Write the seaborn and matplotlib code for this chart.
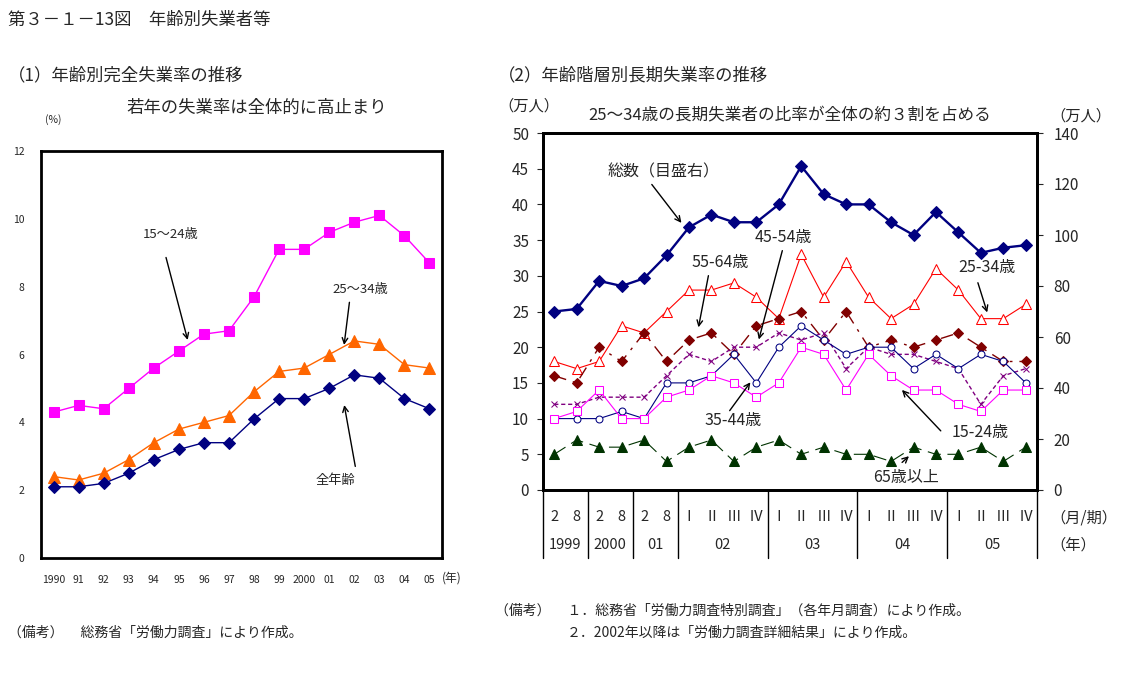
import matplotlib
matplotlib.use("Agg")
import matplotlib.pyplot as plt
import matplotlib.transforms as mtrans
import seaborn as sns

sns.set_style("white")
plt.rcParams['font.family'] = ['Noto Sans CJK JP', 'DejaVu Sans']

# (1) annual unemployment rate by age
years = ["1990", "91", "92", "93", "94", "95", "96", "97", "98", "99",
         "2000", "01", "02", "03", "04", "05"]
rate_15_24 = [4.3, 4.5, 4.4, 5.0, 5.6, 6.1, 6.6, 6.7, 7.7, 9.1, 9.1, 9.6, 9.9, 10.1, 9.5, 8.7]
rate_25_34 = [2.4, 2.3, 2.5, 2.9, 3.4, 3.8, 4.0, 4.2, 4.9, 5.5, 5.6, 6.0, 6.4, 6.3, 5.7, 5.6]
rate_all = [2.1, 2.1, 2.2, 2.5, 2.9, 3.2, 3.4, 3.4, 4.1, 4.7, 4.7, 5.0, 5.4, 5.3, 4.7, 4.4]

# (2) long-term unemployed by age (10k persons)
periods = ["2", "8", "2", "8", "2", "8",
           "Ⅰ", "Ⅱ", "Ⅲ", "Ⅳ", "Ⅰ", "Ⅱ", "Ⅲ", "Ⅳ",
           "Ⅰ", "Ⅱ", "Ⅲ", "Ⅳ", "Ⅰ", "Ⅱ", "Ⅲ", "Ⅳ"]
period_years = ["1999", "2000", "01", "02", "03", "04", "05"]
year_sizes = [2, 2, 2, 4, 4, 4, 4]
total = [70, 71, 82, 80, 83, 92, 103, 108, 105, 105, 112, 127, 116, 112, 112, 105, 100, 109, 101, 93, 95, 96]
lt_25_34 = [18, 17, 18, 23, 22, 25, 28, 28, 29, 27, 24, 33, 27, 32, 27, 24, 26, 31, 28, 24, 24, 26]
lt_55_64 = [16, 15, 20, 18, 22, 18, 21, 22, 19, 23, 24, 25, 21, 25, 20, 21, 20, 21, 22, 20, 18, 18]
lt_45_54 = [12, 12, 13, 13, 13, 16, 19, 18, 20, 20, 22, 21, 22, 17, 20, 19, 19, 18, 17, 12, 16, 17]
lt_35_44 = [10, 10, 10, 11, 10, 15, 15, 16, 19, 15, 20, 23, 21, 19, 20, 20, 17, 19, 17, 19, 18, 15]
lt_15_24 = [10, 11, 14, 10, 10, 13, 14, 16, 15, 13, 15, 20, 19, 14, 19, 16, 14, 14, 12, 11, 14, 14]
lt_65 = [5, 7, 6, 6, 7, 4, 6, 7, 4, 6, 7, 5, 6, 5, 5, 4, 6, 5, 5, 6, 4, 6]

W, H = 1134, 673
fig = plt.figure(figsize=(W / 100, H / 100), dpi=100)


def px_axes(x0, y0, x1, y1):
    return fig.add_axes([x0 / W, 1 - y1 / H, (x1 - x0) / W, (y1 - y0) / H])


def ftext(x, y, s, **kw):
    fig.text(x / W, 1 - y / H, s, va="center", **kw)


# ---------- left chart ----------
ax1 = px_axes(41, 151, 442, 558)
xi = list(range(len(years)))
sns.lineplot(x=xi, y=rate_15_24, ax=ax1, color="#FF00FF", lw=1, marker="s",
             markersize=7, markeredgecolor="#FF00FF")
sns.lineplot(x=xi, y=rate_25_34, ax=ax1, color="#FF6600", lw=1, marker="^",
             markersize=8, markeredgecolor="#FF6600")
sns.lineplot(x=xi, y=rate_all, ax=ax1, color="#000080", lw=1, marker="D",
             markersize=6, markeredgecolor="#000080")
ax1.set_xlim(-0.5, len(years) - 0.5)
ax1.set_ylim(0, 12)
ax1.set_yticks(range(0, 13, 2))
ax1.set_xticks(xi)
ax1.set_xticklabels(years, fontsize=7.5)
ax1.set_xticks([i + 0.5 for i in xi[:-1]], minor=True)
ax1.tick_params(axis="x", which="major", length=0, pad=12)
ax1.tick_params(axis="x", which="minor", length=3, direction="in")
ax1.tick_params(axis="y", labelsize=7.5, length=0, pad=12)
for s in ax1.spines.values():
    s.set_linewidth(2)
    s.set_color("black")

arrow = dict(arrowstyle="->", color="black", lw=1)
ax1.text(4.66, 9.53, "15～24歳", fontsize=9.5, ha="center", va="center")
ax1.annotate("", xy=(5.38, 6.35), xytext=(4.46, 8.94), arrowprops=arrow)
ax1.text(12.26, 7.91, "25～34歳", fontsize=9.5, ha="center", va="center")
ax1.annotate("", xy=(11.58, 6.2), xytext=(11.82, 7.62), arrowprops=arrow)
ax1.text(11.26, 2.29, "全年齢", fontsize=9.5, ha="center", va="center")
ax1.annotate("", xy=(11.58, 4.59), xytext=(12.06, 2.62), arrowprops=arrow)

ftext(8, 20, "第３－１－13図　年齢別失業者等", fontsize=12.5)
ftext(8, 75, "（1）年齢別完全失業率の推移", fontsize=12.5)
ftext(257, 108, "若年の失業率は全体的に高止まり", fontsize=12.5, ha="center")
ftext(45, 120, "(%)", fontsize=7.5)
ftext(452, 578, "(年)", fontsize=8.5, ha="center")
ftext(8, 633, "（備考）　 総務省「労働力調査」により作成。", fontsize=10)

# ---------- right chart ----------
ax = px_axes(543, 133, 1037, 490)
pi = list(range(len(periods)))
sns.lineplot(x=pi, y=lt_25_34, ax=ax, color="#FF0000", lw=0.8, marker="^",
             markersize=7, markerfacecolor="white", markeredgecolor="#FF0000")
sns.lineplot(x=pi, y=lt_55_64, ax=ax, color="#800000", lw=1, marker="D",
             markersize=5, markeredgecolor="#800000", linestyle=(0, (9, 5, 2, 5)))
sns.lineplot(x=pi, y=lt_45_54, ax=ax, color="#800080", lw=1, marker="x",
             markersize=5, markeredgecolor="#800080", linestyle=(0, (3, 2)))
sns.lineplot(x=pi, y=lt_35_44, ax=ax, color="#000080", lw=0.8, marker="o",
             markersize=5, markerfacecolor="white", markeredgecolor="#000080")
sns.lineplot(x=pi, y=lt_15_24, ax=ax, color="#FF00FF", lw=0.8, marker="s",
             markersize=6, markerfacecolor="white", markeredgecolor="#FF00FF")
sns.lineplot(x=pi, y=lt_65, ax=ax, color="#003300", lw=0.8, marker="^",
             markersize=7, markeredgecolor="#003300", linestyle=(0, (12, 6)))
ax.set_xlim(-0.5, len(periods) - 0.5)
ax.set_ylim(0, 50)
ax.set_yticks(range(0, 51, 5))
ax.tick_params(axis="y", labelsize=11, length=4, direction="out", pad=6)
ax.set_xticks([])

ax2 = ax.twinx()
sns.lineplot(x=pi, y=total, ax=ax2, color="#000080", lw=1.7, marker="D",
             markersize=6, markeredgecolor="#000080")
ax2.set_ylim(0, 140)
ax2.set_yticks(range(0, 141, 20))
ax2.tick_params(axis="y", labelsize=11, length=4, direction="out", pad=8)
ax2.set_xlim(-0.5, len(periods) - 0.5)
for a in (ax, ax2):
    for s in a.spines.values():
        s.set_linewidth(2)
        s.set_color("black")

# category table under the right chart
tr = mtrans.blended_transform_factory(ax.transData, ax.transAxes)
for i, p in enumerate(periods):
    ax.text(i, -0.075, p, transform=tr, ha="center", va="center", fontsize=10.5)
edge = -0.5
ax.plot([edge, edge], [0, -0.19], transform=tr, color="black", lw=1, clip_on=False)
for yl, n in zip(period_years, year_sizes):
    ax.text(edge + n / 2, -0.155, yl, transform=tr, ha="center", va="center", fontsize=10.5)
    edge += n
    ax.plot([edge, edge], [0, -0.19], transform=tr, color="black", lw=1, clip_on=False)

fs = 11.5
ax.text(4.85, 44.5, "総数（目盛右）", fontsize=fs, ha="center", va="center")
ax.annotate("", xy=(5.74, 37.1), xytext=(4.27, 43.1), arrowprops=arrow)
ax.text(7.38, 31.9, "55-64歳", fontsize=fs, ha="center", va="center")
ax.annotate("", xy=(6.4, 22.4), xytext=(6.89, 30.4), arrowprops=arrow)
ax.text(10.19, 35.4, "45-54歳", fontsize=fs, ha="center", va="center")
ax.annotate("", xy=(9.08, 20.7), xytext=(10.19, 33.9), arrowprops=arrow)
ax.text(19.28, 31.1, "25-34歳", fontsize=fs, ha="center", va="center")
ax.annotate("", xy=(19.32, 24.5), xytext=(18.83, 29.4), arrowprops=arrow)
ax.text(7.96, 9.7, "35-44歳", fontsize=fs, ha="center", va="center")
ax.annotate("", xy=(8.81, 15.4), xytext=(7.74, 10.8), arrowprops=arrow)
ax.text(18.97, 8.0, "15-24歳", fontsize=fs, ha="center", va="center")
ax.annotate("", xy=(15.4, 14.3), xytext=(17.3, 8.0), arrowprops=arrow)
ax.text(15.67, 1.8, "65歳以上", fontsize=fs, ha="center", va="center")
ax.annotate("", xy=(15.89, 5.0), xytext=(15.4, 3.6), arrowprops=arrow)

ftext(498, 75, "（2）年齢階層別長期失業率の推移", fontsize=12.5)
ftext(498, 106, "（万人）", fontsize=11)
ftext(790, 116, "25～34歳の長期失業者の比率が全体の約３割を占める", fontsize=12, ha="center")
ftext(1050, 116, "（万人）", fontsize=11)
ftext(1050, 518, "（月/期）", fontsize=11)
ftext(1050, 545, "（年）", fontsize=11)
ftext(495, 611, "（備考）　 １．総務省「労働力調査特別調査」（各年月調査）により作成。", fontsize=10)
ftext(567, 633, "２．2002年以降は「労働力調査詳細結果」により作成。", fontsize=10)

fig.savefig("out.png", dpi=100, facecolor="white")
